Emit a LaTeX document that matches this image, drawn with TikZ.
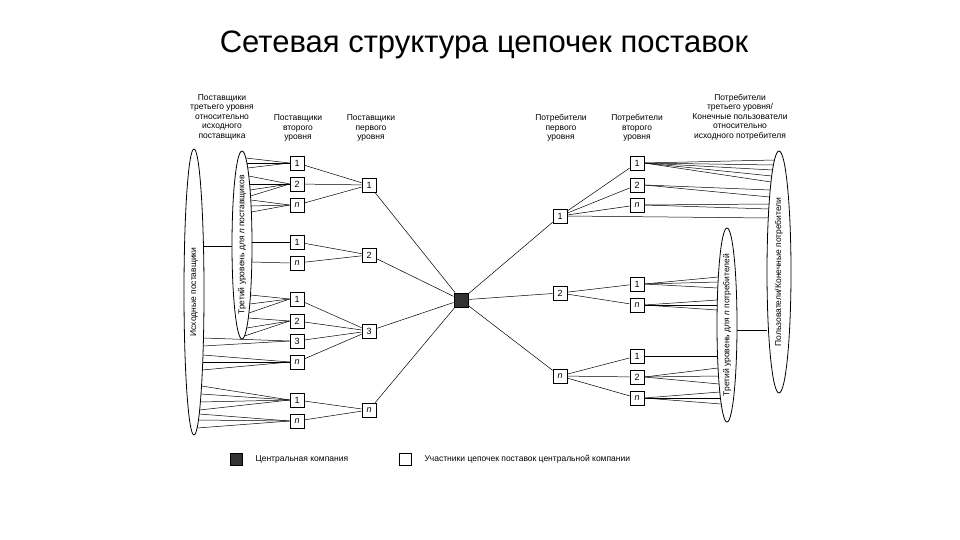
\documentclass[tikz,border=0pt]{standalone}
\usepackage{fontspec}
\setmainfont{Liberation Sans}
\usetikzlibrary{shapes.geometric}
\newcommand\myfan[7]{% cx cy rx ry box ylist sign
 \foreach \yy in {#6}{%
  \pgfmathsetmacro\xx{#1+(#7)*#3*sqrt(max(0,1-((\yy-#2)/#4)^2))}%
  \draw[ln] (\xx,\yy) -- (#5);}}
\begin{document}
\begin{tikzpicture}[x=1pt,y=-1pt,
 bx/.style={draw,thick,fill=white,minimum size=14pt,inner sep=0pt,font=\fontsize{9}{9}\selectfont},
 ln/.style={line width=0.5pt},
 hd/.style={align=center,font=\fontsize{8.5}{9.5}\selectfont},
 el/.style={draw,thick,ellipse,inner sep=0pt}]
\useasboundingbox (0,0) rectangle (960,540);
\node[font=\fontsize{31}{34}\selectfont] (title) at (484,45) {Сетевая структура цепочек поставок};
% headers
\node[hd] (h1) at (222,117) {Поставщики\\третьего уровня\\относительно\\исходного\\поставщика};
\node[hd] (h2) at (298,128) {Поставщики\\второго\\уровня};
\node[hd] (h3) at (371,128) {Поставщики\\первого\\уровня};
\node[hd] (h4) at (561,128) {Потребители\\первого\\уровня};
\node[hd] (h5) at (637,128) {Потребители\\второго\\уровня};
\node[hd] (h6) at (740,117) {Потребители\\третьего уровня/\\Конечные пользователи\\относительно\\исходного потребителя};
% ellipses
\node[el,minimum width=20pt,minimum height=286pt] (EA) at (194,292) {};
\node[rotate=90,font=\fontsize{8.5}{9}\selectfont] (tEA) at (194,292) {Исходные поставщики};
\node[el,minimum width=20pt,minimum height=188pt] (EB) at (242,245) {};
\node[rotate=90,font=\fontsize{8.5}{9}\selectfont] (tEB) at (242,245) {Третий уровень для \textit{n} поставщиков};
\node[el,minimum width=20pt,minimum height=194pt] (EC) at (727,325) {};
\node[rotate=90,font=\fontsize{8.5}{9}\selectfont] (tEC) at (727,325) {Третий уровень для \textit{n} потребителей};
\node[el,minimum width=24pt,minimum height=242pt] (ED) at (779,272) {};
\node[rotate=90,font=\fontsize{8.5}{9}\selectfont] (tED) at (779,272) {Пользователи/Конечные потребители};
\coordinate (ca) at (204,246); \coordinate (cb) at (232,246);
\draw[ln] (ca) -- (cb);
\coordinate (cc) at (737,330); \coordinate (cd) at (767,330);
\draw[ln] (cc) -- (cd);
% central
\node[draw,thick,fill=black!80,minimum size=14pt] (C) at (461,300) {};
% left level1
\node[bx] (L1) at (369,185) {1};
\node[bx] (L2) at (369,255) {2};
\node[bx] (L3) at (369,331) {3};
\node[bx] (Ln) at (369,410) {\textit{n}};
% left level2
\node[bx] (a1) at (297,163) {1};
\node[bx] (a2) at (297,184) {2};
\node[bx] (an) at (297,205) {\textit{n}};
\node[bx] (b1) at (297,242) {1};
\node[bx] (bn) at (297,263) {\textit{n}};
\node[bx] (c1) at (297,299) {1};
\node[bx] (c2) at (297,321) {2};
\node[bx] (c3) at (297,341) {3};
\node[bx] (cn) at (297,362) {\textit{n}};
\node[bx] (d1) at (297,400) {1};
\node[bx] (dn) at (297,421) {\textit{n}};
% right level1
\node[bx] (R1) at (560,216) {1};
\node[bx] (R2) at (560,293) {2};
\node[bx] (Rn) at (560,376) {\textit{n}};
% right level2
\node[bx] (e1) at (637,163) {1};
\node[bx] (e2) at (637,185) {2};
\node[bx] (en) at (637,205) {\textit{n}};
\node[bx] (f1) at (637,284) {1};
\node[bx] (fn) at (637,305) {\textit{n}};
\node[bx] (g1) at (637,356) {1};
\node[bx] (g2) at (637,377) {2};
\node[bx] (gn) at (637,398) {\textit{n}};
% connections
\foreach \s/\t in {a1/L1,a2/L1,an/L1,b1/L2,bn/L2,c1/L3,c2/L3,c3/L3,cn/L3,d1/Ln,dn/Ln,L1/C,L2/C,L3/C,Ln/C,C/R1,C/R2,C/Rn,R1/e1,R1/e2,R1/en,R2/f1,R2/fn,Rn/g1,Rn/g2,Rn/gn}
  \draw[ln] (\s) -- (\t);
% fans left
\myfan{242}{245}{10}{94}{a1.west}{158,163,168}{1}
\myfan{242}{245}{10}{94}{a2.west}{176,184,190,196}{1}
\myfan{242}{245}{10}{94}{an.west}{200,206,212}{1}
\myfan{242}{245}{10}{94}{b1.west}{242}{1}
\myfan{242}{245}{10}{94}{bn.west}{262}{1}
\myfan{242}{245}{10}{94}{c1.west}{295,304,313}{1}
\myfan{242}{245}{10}{94}{c2.west}{318,328,336}{1}
\myfan{194}{292}{10}{143}{c3.west}{338,346}{1}
\myfan{194}{292}{10}{143}{cn.west}{355,362,370}{1}
\myfan{194}{292}{10}{143}{d1.west}{386,394,402,410}{1}
\myfan{194}{292}{10}{143}{dn.west}{414,420,428}{1}
% fans right
\myfan{779}{272}{12}{121}{e1.east}{160,165,170,176,182}{-1}
\myfan{779}{272}{12}{121}{e2.east}{190,197}{-1}
\myfan{779}{272}{12}{121}{en.east}{204,209}{-1}
\myfan{779}{272}{12}{121}{R1.east}{218}{-1}
\myfan{727}{325}{10}{97}{f1.east}{277,282,288}{-1}
\myfan{727}{325}{10}{97}{fn.east}{300,305,310}{-1}
\myfan{727}{325}{10}{97}{g1.east}{356}{-1}
\myfan{727}{325}{10}{97}{g2.east}{368,376,384}{-1}
\myfan{727}{325}{10}{97}{gn.east}{392,398,404}{-1}
% legend
\node[draw,thick,fill=black!80,minimum size=12pt] (lg1) at (236,459) {};
\node[anchor=west,font=\fontsize{8.5}{9}\selectfont] (lt1) at (252,459) {Центральная компания};
\node[draw,thick,fill=white,minimum size=12pt] (lg2) at (405,459) {};
\node[anchor=west,font=\fontsize{8.5}{9}\selectfont] (lt2) at (421,459) {Участники цепочек поставок центральной компании};
\end{tikzpicture}
\end{document}
